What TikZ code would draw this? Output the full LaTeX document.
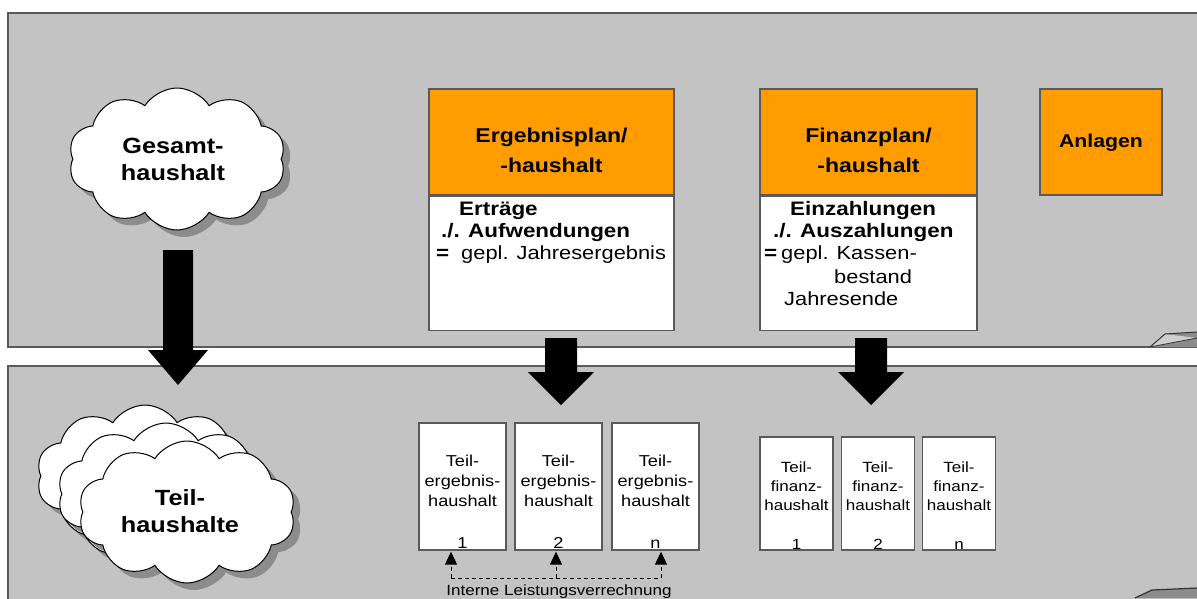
\documentclass[tikz,border=0pt]{standalone}
\usepackage{fontspec}
\setmainfont{Liberation Sans}[FakeStretch=1.15]
\usetikzlibrary{shapes.symbols,shadows,arrows.meta,calc}
\definecolor{panelgray}{HTML}{C3C3C3}
\definecolor{orangeh}{HTML}{FF9C00}
\definecolor{framec}{HTML}{5A5A5A}
\tikzset{
 panel/.style={draw=framec, line width=1.3pt, fill=panelgray},
 hbox/.style={draw=framec, line width=1.3pt, fill=orangeh, inner sep=0},
 htext/.style={inner sep=0, align=center, font=\bfseries\fontsize{20}{30}\selectfont},
 bbox/.style={draw=framec, line width=1.3pt, fill=white, inner sep=0},
 btext/.style={anchor=base west, inner sep=0, font=\fontsize{19}{22}\selectfont},
 bbold/.style={btext, font=\bfseries\fontsize{19.5}{22}\selectfont},
 tbox/.style={draw=framec, line width=1.3pt, fill=white, inner sep=0},
 ttext/.style={anchor=base, inner sep=0, font=\fontsize{15.8}{20}\selectfont},
 ftext/.style={anchor=base, inner sep=0, font=\fontsize{14.8}{19}\selectfont},
 cloudn/.style={cloud, cloud puffs=10, cloud puff arc=115, aspect=1.55, draw=black, line width=1pt, fill=white, minimum width=217, minimum height=142, inner sep=0, drop shadow={shadow xshift=7pt, shadow yshift=-7pt, fill=black!45, opacity=1}},
 ctext/.style={align=center, inner sep=0, font=\bfseries\fontsize{22}{27}\selectfont},
 dashl/.style={dash pattern=on 4pt off 3pt, line width=1pt},
 uparrow/.style={dashl, -{Triangle[width=12pt,length=13pt]}, shorten >=1pt},
}
\begin{document}
\begin{tikzpicture}[x=1pt,y=-1pt]
\useasboundingbox (0,0) rectangle (1197,598);
\clip (0,0) rectangle (1197,598);
\fill[white] (0,0) rectangle (1197,598);
% panels
\draw[panel] (8,13) rectangle (1225,347);
\draw[panel] (8,366) rectangle (1225,625);
% page curls
\fill[black!45] (1150,347) -- (1165,334) -- (1197,332) -- (1197,347) -- cycle;
\fill[panelgray!80] (1150,347) -- (1165,334) -- (1197,338) -- cycle;
\draw[black!80, line width=1pt] (1150,347) -- (1165,334) -- (1197,332);
\draw[black!80, line width=0.8pt] (1150,347) -- (1197,338);
\fill[black!45] (1135,598) -- (1152,590) -- (1197,588) -- (1197,598) -- cycle;
\draw[black!80, line width=1.2pt] (1135,598) -- (1152,590) -- (1197,588);

% Gesamthaushalt cloud
\node[cloudn] (gesamt) at (177,159) {};
\node[ctext] (gesamtt) at (173,159) {Gesamt-\\haushalt};

% Teilhaushalte clouds
\node[cloudn] (teil3) at (145,476) {};
\node[cloudn] (teil2) at (166,494) {};
\node[cloudn] (teil1) at (187,512) {};
\node[ctext] (teilt) at (180,511) {Teil-\\haushalte};

% block arrow from Gesamt to Teil
\coordinate (ga) at (178,250);
\fill[black] ($(ga)+(-15,0)$) -- ++(30,0) -- ++(0,100) -- ++(15,0) -- ++(-30,35) -- ++(-30,-35) -- ++(15,0) -- cycle;

% Ergebnisplan
\node[hbox, minimum width=245, minimum height=106] (ergh) at (551.5,142) {};
\node[htext] (erght) at (551.5,150) {Ergebnisplan/\\-haushalt};
\node[bbox, minimum width=245, minimum height=134, anchor=north] (ergb) at (ergh.south) {};
\node[bbold] (e1) at (459,215) {Erträge};
\node[bbold] (e2) at (441,237) {./. Aufwendungen};
\node[bbold] (e3a) at (436,259) {=};
\node[btext] (e3) at (461,259) {gepl. Jahresergebnis};

% Finanzplan
\node[hbox, minimum width=217, minimum height=106] (finh) at (868.5,142) {};
\node[htext] (finht) at (868.5,150) {Finanzplan/\\-haushalt};
\node[bbox, minimum width=217, minimum height=134, anchor=north] (finb) at (finh.south) {};
\node[bbold] (f1) at (790,215) {Einzahlungen};
\node[bbold] (f2) at (773,237) {./. Auszahlungen};
\node[bbold] (f3a) at (764,259) {=};
\node[btext] (f3) at (781,259) {gepl. Kassen-};
\node[btext] (f4) at (834,283) {bestand};
\node[btext] (f5) at (784,305) {Jahresende};

% Anlagen
\node[hbox, minimum width=122, minimum height=106] (anl) at (1101,142) {};
\node[htext, font=\bfseries\fontsize{18.5}{22}\selectfont] (anlt) at (1101,143) {Anlagen};

% block arrows down
\coordinate (ea) at (561,338);
\fill[black] ($(ea)+(-16,0)$) -- ++(32,0) -- ++(0,34) -- ++(17,0) -- ++(-33,33) -- ++(-33,-33) -- ++(17,0) -- cycle;
\coordinate (fa) at (871,338);
\fill[black] ($(fa)+(-16,0)$) -- ++(32,0) -- ++(0,34) -- ++(17,0) -- ++(-33,33) -- ++(-33,-33) -- ++(17,0) -- cycle;

% Teilergebnishaushalte
\foreach \n/\x/\lab in {1/462.5/1, 2/558.5/2, 3/655.5/n}{
  \node[tbox, minimum width=87, minimum height=127] (te\n) at (\x,486.5) {};
  \node[ttext] (te\n a) at (\x,466) {Teil-};
  \node[ttext] (te\n b) at (\x,486) {ergebnis-};
  \node[ttext] (te\n c) at (\x,506) {haushalt};
  \node[ttext] (te\n d) at (\x,548) {\lab};
}
% Teilfinanzhaushalte
\foreach \n/\x/\lab in {1/796.5/1, 2/878/2, 3/959/n}{
  \node[tbox, minimum width=73, minimum height=113] (tf\n) at (\x,493.5) {};
  \node[ftext] (tf\n a) at (\x,472) {Teil-};
  \node[ftext] (tf\n b) at (\x,491) {finanz-};
  \node[ftext] (tf\n c) at (\x,510) {haushalt};
  \node[ftext] (tf\n d) at (\x,549) {\lab};
}

% internal allocation
\coordinate (d1) at (451,578);
\coordinate (d2) at (556,578);
\coordinate (d3) at (661,578);
\draw[dashl] (d1) -- (d3);
\draw[uparrow] (d1) -- (d1 |- te1.south);
\draw[uparrow] (d2) -- (d2 |- te2.south);
\draw[uparrow] (d3) -- (d3 |- te3.south);
\node[inner sep=0, anchor=base, font=\fontsize{14.8}{18}\selectfont] (ilv) at (559,595) {Interne Leistungsverrechnung};
\end{tikzpicture}
\end{document}
